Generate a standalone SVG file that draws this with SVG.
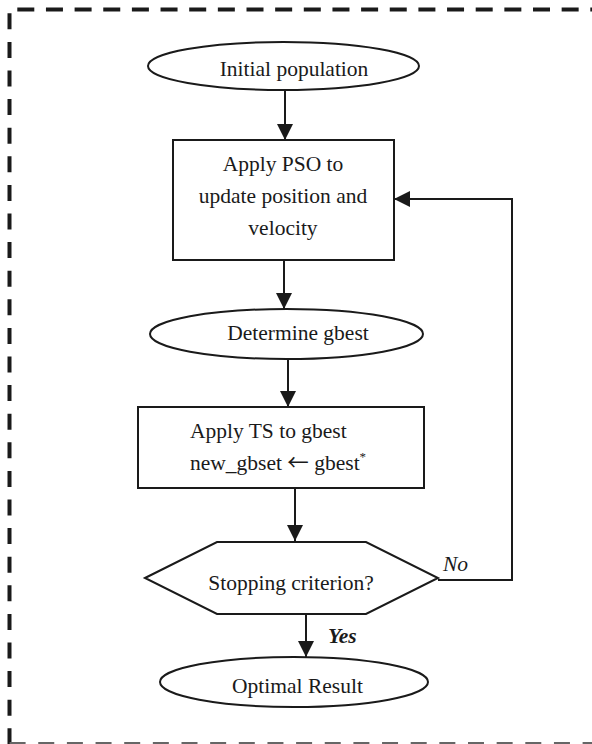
<svg xmlns="http://www.w3.org/2000/svg" width="592" height="744" viewBox="0 0 592 744">
<style>
.t{font-family:"Liberation Serif","Times New Roman",serif;font-size:21.5px;fill:#1a1a1a}
.s{fill:#fff;stroke:#1a1a1a;stroke-width:2}
.c{fill:none;stroke:#1a1a1a;stroke-width:2}
</style>
<defs>
<marker id="ah" markerUnits="userSpaceOnUse" markerWidth="16" markerHeight="16" viewBox="0 0 16 16" refX="16" refY="8" orient="auto">
<path d="M0,0 L16,8 L0,16 Z" fill="#1a1a1a"/>
</marker>
</defs>
<g id="frame">
<line x1="17.3" y1="9.5" x2="592" y2="9.5" stroke="#1a1a1a" stroke-width="4" stroke-dasharray="17 11.65"/>
<line x1="9.5" y1="13.3" x2="9.5" y2="744" stroke="#1a1a1a" stroke-width="4" stroke-dasharray="16 12.6"/>
<line x1="9.6" y1="743" x2="592" y2="743" stroke="#666" stroke-width="2" stroke-dasharray="16 12.65"/>
</g>
<g id="connectors">
<line class="c" x1="285" y1="90" x2="285" y2="140" marker-end="url(#ah)"/>
<line class="c" x1="284" y1="260" x2="284" y2="309" marker-end="url(#ah)"/>
<line class="c" x1="288" y1="359" x2="288" y2="407" marker-end="url(#ah)"/>
<line class="c" x1="295" y1="488" x2="295" y2="541" marker-end="url(#ah)"/>
<line class="c" x1="306" y1="614" x2="306" y2="657" marker-end="url(#ah)"/>
<polyline class="c" points="438,580 512,580 512,199 394,199" marker-end="url(#ah)"/>
<text class="t" x="443" y="571" font-style="italic">No</text>
<text class="t" x="328" y="643" font-style="italic" font-weight="bold">Yes</text>
</g>
<g id="n1">
<ellipse class="s" cx="283.5" cy="66" rx="135.5" ry="24"/>
<text class="t" x="294" y="76" text-anchor="middle">Initial population</text>
</g>
<g id="n2">
<rect class="s" x="173" y="140" width="221" height="120"/>
<text class="t" x="283" y="171" text-anchor="middle">Apply PSO to</text>
<text class="t" x="283" y="203" text-anchor="middle">update position and</text>
<text class="t" x="283" y="235" text-anchor="middle">velocity</text>
</g>
<g id="n3">
<ellipse class="s" cx="286.5" cy="334" rx="136.5" ry="25"/>
<text class="t" x="298" y="340" text-anchor="middle">Determine gbest</text>
</g>
<g id="n4">
<rect class="s" x="138" y="407" width="286" height="81"/>
<text class="t" x="190" y="438">Apply TS to gbest</text>
<text class="t" x="190" y="470">new_gbset <tspan font-family="Noto Sans CJK JP,sans-serif">←</tspan> gbest<tspan font-size="13" dy="-9">*</tspan></text>
</g>
<g id="n5">
<polygon class="s" points="145,578 217,542 366,542 438,578 366,614 217,614"/>
<text class="t" x="291" y="590" text-anchor="middle">Stopping criterion?</text>
</g>
<g id="n6">
<ellipse class="s" cx="294" cy="682" rx="134" ry="25"/>
<text class="t" x="297.5" y="693" text-anchor="middle">Optimal Result</text>
</g>
</svg>
